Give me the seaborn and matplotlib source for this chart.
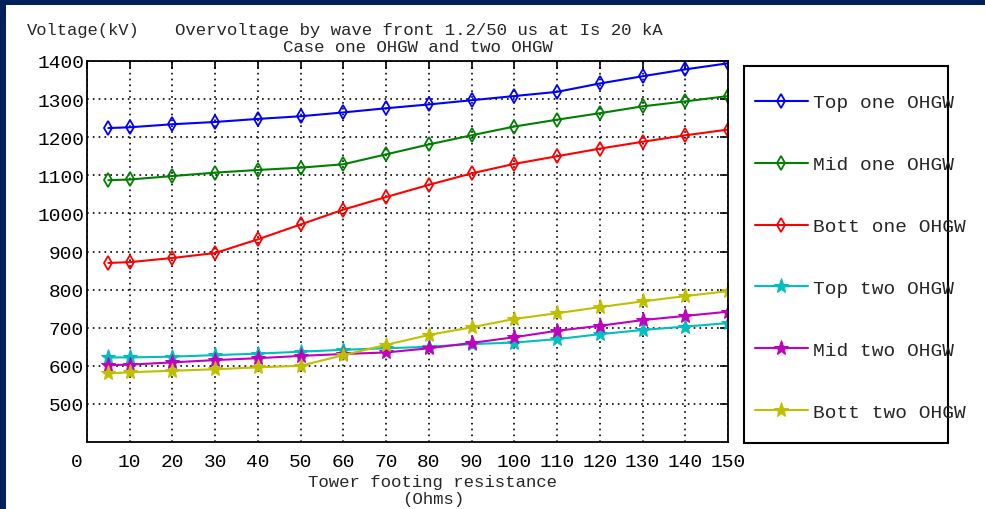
import numpy as np
import pandas as pd
import matplotlib
matplotlib.use("Agg")
import matplotlib.pyplot as plt
from matplotlib.patches import Rectangle
from matplotlib.transforms import ScaledTranslation
import seaborn as sns

# tower footing resistance (Ohms)
resistance = [5, 10, 20, 30, 40, 50, 60, 70, 80, 90, 100, 110, 120, 130, 140, 150]

# overvoltage in kV
top_one = [1224, 1226, 1234, 1240, 1248, 1255, 1265, 1276, 1286, 1297, 1308, 1319, 1341, 1360, 1378, 1394]
mid_one = [1087, 1089, 1098, 1107, 1114, 1120, 1129, 1155, 1181, 1205, 1228, 1246, 1263, 1281, 1294, 1308]
bott_one = [870, 872, 883, 896, 932, 971, 1010, 1043, 1075, 1105, 1130, 1150, 1170, 1188, 1205, 1220]
top_two = [622, 622, 624, 628, 632, 637, 642, 646, 650, 657, 661, 670, 683, 694, 703, 712]
mid_two = [602, 603, 609, 615, 620, 626, 631, 635, 646, 660, 675, 692, 705, 720, 731, 742]
bott_two = [580, 583, 587, 591, 596, 600, 628, 655, 681, 701, 723, 738, 754, 769, 783, 796]

labels = ["Top one OHGW", "Mid one OHGW", "Bott one OHGW",
          "Top two OHGW", "Mid two OHGW", "Bott two OHGW"]
series = [top_one, mid_one, bott_one, top_two, mid_two, bott_two]
colors = ["#0000ff", "#008000", "#ff0000", "#00bfbf", "#bf00bf", "#bfbf00"]
markers = ["d", "d", "d", "*", "*", "*"]

x_ticks = list(range(0, 151, 10))
y_ticks = list(range(500, 1401, 100))

sns.set_style("white")
plt.rcParams["font.family"] = ["Liberation Mono", "DejaVu Sans Mono"]

W, H = 985, 510
fig = plt.figure(figsize=(W / 100, H / 100), dpi=100)
fig.patch.set_facecolor("#00205b")
# white page inside the navy frame
fig.patches.append(Rectangle((6 / W, 0), 1 - 6 / W, 1 - 6 / H, transform=fig.transFigure,
                             facecolor="white", edgecolor="none", zorder=-10))

ax = fig.add_axes([87 / W, 1 - 443 / H, (728 - 87) / W, (443 - 62) / H])

df = pd.DataFrame({"resistance": resistance})
for lab, vals, col, mk in zip(labels, series, colors, markers):
    df[lab] = vals
    if mk == "d":
        sns.lineplot(data=df, x="resistance", y=lab, ax=ax, color=col, marker="d",
                     markersize=7, markerfacecolor="none", markeredgecolor=col,
                     markeredgewidth=1.3, linewidth=1.5, label=lab)
    else:
        sns.lineplot(data=df, x="resistance", y=lab, ax=ax, color=col, marker="*",
                     markersize=11, markeredgecolor=col, linewidth=1.5, label=lab)

ax.set_xlim(0, 150)
ax.set_ylim(400, 1400)
ax.set_xticks(x_ticks)
ax.set_yticks(y_ticks)
ax.set_xlabel("")
ax.set_ylabel("")
ax.grid(True, color="black", linestyle=(0, (1, 2.5)), linewidth=1.2)
ax.tick_params(direction="in", length=6, width=1.2, top=True, right=True,
               labelsize=14, colors="black")
ax.tick_params(axis="y", pad=2)
ax.tick_params(axis="x", pad=8)
for sp in ax.spines.values():
    sp.set_color("black")
    sp.set_linewidth(1.3)

# the 0 label sits a little left of the axis corner
zero_lab = ax.get_xticklabels()[0]
zero_lab.set_transform(zero_lab.get_transform() + ScaledTranslation(-0.1, 0, fig.dpi_scale_trans))

# legend drawn as a fixed box with text running over the right edge
fig.patches.append(Rectangle((744 / W, 1 - 444 / H), (948 - 744) / W, (444 - 67) / H,
                             transform=fig.transFigure, facecolor="white",
                             edgecolor="black", linewidth=1.5, zorder=-5))
leg = ax.legend(loc="center left", bbox_to_anchor=(755 / W, 1 - 258.5 / H),
                bbox_transform=fig.transFigure, frameon=False, fontsize=14,
                borderpad=0, borderaxespad=0, handlelength=2.7, handletextpad=0.3,
                labelspacing=2.28)

fig.text(27 / W, 1 - 31 / H, "Voltage(kV)", ha="left", va="center", fontsize=12.3)
fig.text(419 / W, 1 - 31 / H, "Overvoltage by wave front 1.2/50 us at Is 20 kA",
         ha="center", va="center", fontsize=12.5)
fig.text(418 / W, 1 - 48 / H, "Case one OHGW and two OHGW", ha="center", va="center",
         fontsize=12.5)
fig.text(433 / W, 1 - 483 / H, "Tower footing resistance", ha="center", va="center",
         fontsize=12.5)
fig.text(433 / W, 1 - 500 / H, "(Ohms)", ha="center", va="center", fontsize=12.5)

fig.savefig("out.png", dpi=100, facecolor=fig.get_facecolor())
